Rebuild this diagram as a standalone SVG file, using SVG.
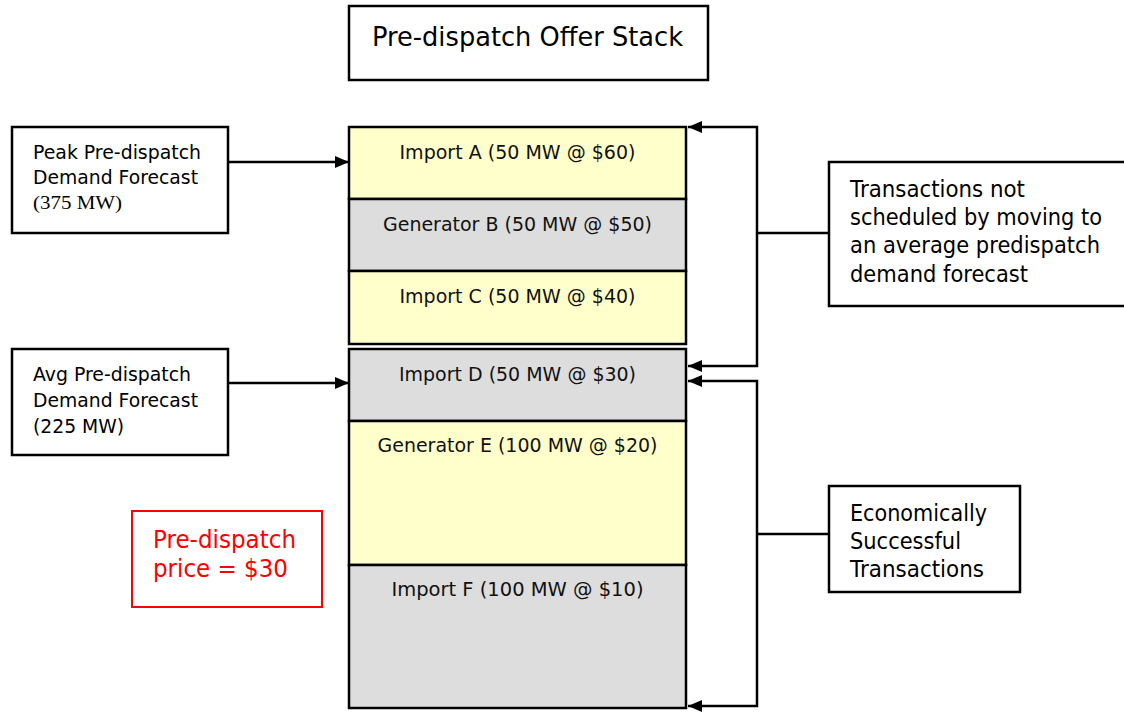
<svg xmlns="http://www.w3.org/2000/svg" width="1124" height="713" viewBox="0 0 1124 713">
  <style>
    .box { fill: #ffffff; stroke: #000000; stroke-width: 2.5; }
    .imp { fill: #ffffcc; stroke: #000000; stroke-width: 2.5; }
    .gen { fill: #dddddd; stroke: #000000; stroke-width: 2.5; }
    .red { fill: #ffffff; stroke: #ff0000; stroke-width: 2; }
    .t { font-family: "DejaVu Sans", Verdana, sans-serif; fill: #000000; }
    .cell { font-size: 20px; text-anchor: middle; fill: #111111; }
    .side { font-size: 20px; }
    .note { font-size: 22.5px; }
    .serif { font-family: "Liberation Serif", "Times New Roman", serif; font-size: 19px; }
    .price { font-family: "DejaVu Sans", Verdana, sans-serif; font-size: 24.5px; fill: #ff0000; }
    .wire { fill: none; stroke: #000000; stroke-width: 2.5; }
  </style>
  <defs>
    <marker id="arrow" viewBox="0 0 14 12" refX="14" refY="6" markerWidth="14" markerHeight="12" markerUnits="userSpaceOnUse" orient="auto">
      <path d="M0,0 L14,6 L0,12 Z" fill="#000000"/>
    </marker>
  </defs>

  <rect width="1124" height="713" fill="#ffffff"/>

  <!-- Title -->
  <g id="title">
    <rect class="box" x="349" y="6" width="359" height="74"/>
    <text class="t" x="372" y="46" font-size="27" textLength="311" lengthAdjust="spacingAndGlyphs">Pre-dispatch Offer Stack</text>
  </g>

  <!-- Offer stack, highest price on top -->
  <g id="import-a">
    <rect class="imp" x="349" y="127" width="337" height="72"/>
    <text class="t cell" x="517.5" y="159" textLength="236" lengthAdjust="spacingAndGlyphs">Import A (50 MW @ $60)</text>
  </g>
  <g id="generator-b">
    <rect class="gen" x="349" y="199" width="337" height="72"/>
    <text class="t cell" x="517.5" y="231" textLength="269" lengthAdjust="spacingAndGlyphs">Generator B (50 MW @ $50)</text>
  </g>
  <g id="import-c">
    <rect class="imp" x="349" y="271" width="337" height="73"/>
    <text class="t cell" x="517.5" y="303" textLength="236" lengthAdjust="spacingAndGlyphs">Import C (50 MW @ $40)</text>
  </g>
  <g id="import-d">
    <rect class="gen" x="349" y="349" width="337" height="72"/>
    <text class="t cell" x="517.5" y="381" textLength="237" lengthAdjust="spacingAndGlyphs">Import D (50 MW @ $30)</text>
  </g>
  <g id="generator-e">
    <rect class="imp" x="349" y="421" width="337" height="144"/>
    <text class="t cell" x="517.5" y="452" textLength="280" lengthAdjust="spacingAndGlyphs">Generator E (100 MW @ $20)</text>
  </g>
  <g id="import-f">
    <rect class="gen" x="349" y="565" width="337" height="143"/>
    <text class="t cell" x="517.5" y="596" textLength="252" lengthAdjust="spacingAndGlyphs">Import F (100 MW @ $10)</text>
  </g>

  <!-- Demand forecasts -->
  <g id="peak-forecast">
    <rect class="box" x="12" y="127" width="216" height="106"/>
    <text class="t side" x="33" y="159" textLength="168" lengthAdjust="spacingAndGlyphs">Peak Pre-dispatch</text>
    <text class="t side" x="33" y="184" textLength="165" lengthAdjust="spacingAndGlyphs">Demand Forecast</text>
    <text class="serif" x="33" y="209" textLength="89" lengthAdjust="spacingAndGlyphs">(375 MW)</text>
  </g>
  <g id="avg-forecast">
    <rect class="box" x="12" y="349" width="216" height="106"/>
    <text class="t side" x="33" y="381" textLength="158" lengthAdjust="spacingAndGlyphs">Avg Pre-dispatch</text>
    <text class="t side" x="33" y="407" textLength="165" lengthAdjust="spacingAndGlyphs">Demand Forecast</text>
    <text class="t side" x="33" y="433" textLength="91" lengthAdjust="spacingAndGlyphs">(225 MW)</text>
  </g>

  <!-- Price -->
  <g id="price">
    <rect class="red" x="132" y="511" width="190" height="96"/>
    <text class="price" x="153" y="548" textLength="143" lengthAdjust="spacingAndGlyphs">Pre-dispatch</text>
    <text class="price" x="153" y="577" textLength="135" lengthAdjust="spacingAndGlyphs">price = $30</text>
  </g>

  <!-- Outcome notes -->
  <g id="not-scheduled">
    <rect class="box" x="829" y="162" width="300" height="144"/>
    <text class="t note" x="850" y="197" textLength="175" lengthAdjust="spacingAndGlyphs">Transactions not</text>
    <text class="t note" x="850" y="225" textLength="252" lengthAdjust="spacingAndGlyphs">scheduled by moving to</text>
    <text class="t note" x="850" y="253" textLength="250" lengthAdjust="spacingAndGlyphs">an average predispatch</text>
    <text class="t note" x="850" y="282" textLength="178" lengthAdjust="spacingAndGlyphs">demand forecast</text>
  </g>
  <g id="successful">
    <rect class="box" x="829" y="486" width="191" height="106"/>
    <text class="t note" x="850" y="521" textLength="137" lengthAdjust="spacingAndGlyphs">Economically</text>
    <text class="t note" x="850" y="549" textLength="111" lengthAdjust="spacingAndGlyphs">Successful</text>
    <text class="t note" x="850" y="577" textLength="134" lengthAdjust="spacingAndGlyphs">Transactions</text>
  </g>

  <!-- Connectors -->
  <g id="connectors">
    <line class="wire" x1="228" y1="162" x2="349" y2="162" marker-end="url(#arrow)"/>
    <line class="wire" x1="228" y1="383" x2="349" y2="383" marker-end="url(#arrow)"/>

    <!-- bracket over A..C -->
    <polyline class="wire" points="757,233 757,127 688,127" marker-end="url(#arrow)"/>
    <polyline class="wire" points="757,233 757,366 688,366" marker-end="url(#arrow)"/>
    <line class="wire" x1="757" y1="233" x2="829" y2="233"/>

    <!-- bracket over D..F -->
    <polyline class="wire" points="757,534 757,381 688,381" marker-end="url(#arrow)"/>
    <polyline class="wire" points="757,534 757,706 688,706" marker-end="url(#arrow)"/>
    <line class="wire" x1="757" y1="534" x2="829" y2="534"/>
  </g>
</svg>
